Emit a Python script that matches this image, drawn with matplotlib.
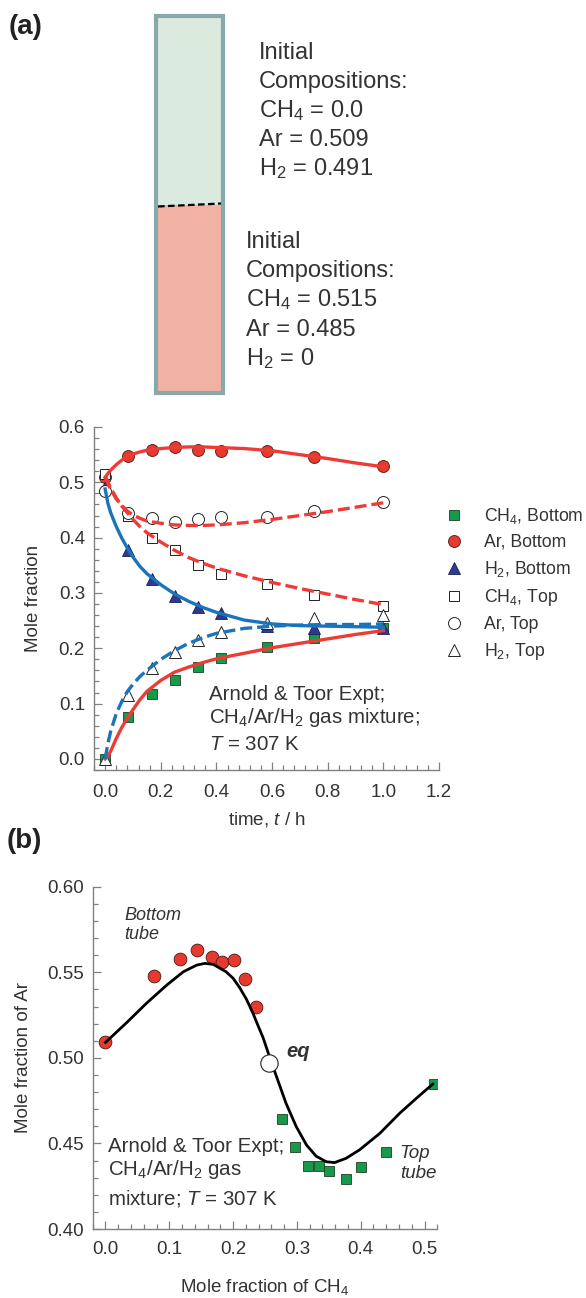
import numpy as np
import matplotlib
matplotlib.use('Agg')
import matplotlib.pyplot as plt
from matplotlib.patches import Rectangle
from matplotlib.lines import Line2D
from matplotlib.ticker import MultipleLocator, FormatStrFormatter

plt.rcParams['font.family'] = ['Liberation Sans', 'DejaVu Sans']
plt.rcParams['mathtext.fontset'] = 'custom'
plt.rcParams['mathtext.rm'] = 'Liberation Sans'
plt.rcParams['mathtext.it'] = 'Liberation Sans:italic'
plt.rcParams['mathtext.bf'] = 'Liberation Sans:bold'

# sampling times, h (0, 5, 10, 15, 20, 25, 35, 45, 60 min)
t_expt = [0.0, 0.0833, 0.1667, 0.25, 0.3333, 0.4167, 0.5833, 0.75, 1.0]

ch4_bottom = [0.0, 0.076, 0.117, 0.143, 0.167, 0.182, 0.202, 0.218, 0.236]
ar_bottom = [0.509, 0.548, 0.558, 0.563, 0.559, 0.556, 0.557, 0.546, 0.530]
h2_bottom = [0.491, 0.378, 0.326, 0.295, 0.275, 0.264, 0.241, 0.237, 0.236]
ch4_top = [0.515, 0.440, 0.400, 0.377, 0.351, 0.334, 0.317, 0.297, 0.276]
ar_top = [0.485, 0.445, 0.436, 0.429, 0.434, 0.437, 0.437, 0.448, 0.464]
h2_top = [0.0, 0.115, 0.164, 0.194, 0.215, 0.229, 0.246, 0.255, 0.260]

# model curves
t_model = [0.0, 0.01, 0.02, 0.04, 0.06, 0.08, 0.1, 0.125, 0.15, 0.2,
           0.25, 0.3, 0.35, 0.4, 0.5, 0.6, 0.7, 0.8, 0.9, 1.0]
ar_bottom_model = [0.509, 0.516, 0.522, 0.532, 0.540, 0.547, 0.551, 0.555, 0.558, 0.561,
                   0.563, 0.564, 0.564, 0.563, 0.561, 0.557, 0.550, 0.543, 0.535, 0.528]
ch4_bottom_model = [0.0, 0.005, 0.014, 0.037, 0.057, 0.074, 0.089, 0.107, 0.122, 0.142,
                    0.157, 0.166, 0.174, 0.181, 0.191, 0.201, 0.209, 0.217, 0.225, 0.232]
ar_top_model = [0.509, 0.498, 0.487, 0.470, 0.458, 0.448, 0.441, 0.435, 0.430, 0.426,
                0.423, 0.422, 0.422, 0.423, 0.427, 0.433, 0.440, 0.447, 0.455, 0.463]
ch4_top_model = [0.512, 0.500, 0.490, 0.472, 0.457, 0.445, 0.433, 0.420, 0.409, 0.392,
                 0.377, 0.364, 0.354, 0.345, 0.331, 0.319, 0.308, 0.298, 0.288, 0.279]
h2_bottom_model = [0.488, 0.462, 0.445, 0.420, 0.399, 0.381, 0.365, 0.348, 0.335, 0.315,
                   0.298, 0.285, 0.274, 0.265, 0.251, 0.244, 0.241, 0.240, 0.239, 0.238]
h2_top_model = [0.0, 0.028, 0.050, 0.082, 0.104, 0.122, 0.135, 0.149, 0.160, 0.180,
                0.196, 0.209, 0.219, 0.227, 0.236, 0.240, 0.242, 0.243, 0.243, 0.244]

# composition trajectory, Ar vs CH4
x_ch4_model = [0.0, 0.033, 0.064, 0.096, 0.122, 0.143, 0.156, 0.169, 0.189, 0.200, 0.210,
               0.221, 0.231, 0.240, 0.247, 0.257, 0.270, 0.283, 0.299, 0.315, 0.330,
               0.346, 0.359, 0.377, 0.398, 0.430, 0.461, 0.487, 0.513]
y_ar_model = [0.509, 0.5205, 0.5318, 0.5425, 0.5503, 0.5542, 0.5552, 0.5546, 0.5503,
              0.5465, 0.5412, 0.5342, 0.5262, 0.5180, 0.5118, 0.5007, 0.4870, 0.4734,
              0.4598, 0.4491, 0.4426, 0.4393, 0.4388, 0.4413, 0.4462, 0.4559, 0.4676,
              0.4763, 0.4847]
eq_point = (0.257, 0.497)

RED = '#e63a2e'
RED_LINE = '#ee3b35'
GREEN = '#17994a'
BLUE = '#2e3a92'
BLUE_LINE = '#1a74bb'
TXT = '#333333'
GRAY = '#808080'

W, H = 586, 1298
fig = plt.figure(figsize=(W / 100, H / 100), dpi=100)

# ---- tube sketch --------------------------------------------------------
bg = fig.add_axes([0, 0, 1, 1], zorder=-1)
bg.set_xlim(0, W)
bg.set_ylim(H, 0)
bg.axis('off')
bg.add_patch(Rectangle((155.5, 16), 67, 189, facecolor='#dbeadf', edgecolor='none'))
bg.add_patch(Rectangle((155.5, 205), 67, 188, facecolor='#f1b2a3', edgecolor='none'))
bg.add_patch(Rectangle((155.5, 16), 67, 377, facecolor='none', edgecolor='#87a9ab', linewidth=3))
bg.plot([158, 221], [206.5, 203.5], color='k', ls=(0, (3, 1.5)), lw=1.6)

top_lines = ['Initial', 'Compositions:', r'CH$_4$ = 0.0', 'Ar = 0.509', r'H$_2$ = 0.491']
bot_lines = ['Initial', 'Compositions:', r'CH$_4$ = 0.515', 'Ar = 0.485', r'H$_2$ = 0']
for i, s in enumerate(top_lines):
    bg.text(259, 59 + 29 * i, s, fontsize=17, color=TXT, va='baseline', ha='left')
for i, s in enumerate(bot_lines):
    bg.text(246, 248 + 29.2 * i, s, fontsize=17, color=TXT, va='baseline', ha='left')

bg.text(9, 27, '(a)', fontsize=20, fontweight='bold', color='#222222', va='center')
bg.text(7, 841, '(b)', fontsize=20, fontweight='bold', color='#222222', va='center')


def style_axes(ax):
    for s in ['top', 'right']:
        ax.spines[s].set_visible(False)
    for s in ['left', 'bottom']:
        ax.spines[s].set_color(GRAY)
        ax.spines[s].set_linewidth(1.0)
    ax.tick_params(which='both', direction='in', color=GRAY, labelcolor=TXT,
                   labelsize=13.5, width=0.9)
    ax.tick_params(which='major', length=5.5)
    ax.tick_params(which='minor', length=3.5)
    ax.tick_params(axis='y', pad=6.5)


# ---- (a) mole fraction vs time -----------------------------------------
ax1 = fig.add_axes([94 / W, 1 - 770 / H, 345 / W, 343 / H])
style_axes(ax1)
ax1.tick_params(axis='x', pad=10)
ax1.set_xlim(-0.04, 1.2)
ax1.set_ylim(-0.02, 0.6)
ax1.xaxis.set_major_locator(MultipleLocator(0.2))
ax1.xaxis.set_minor_locator(MultipleLocator(0.04))
ax1.yaxis.set_major_locator(MultipleLocator(0.1))
ax1.yaxis.set_minor_locator(MultipleLocator(0.02))
ax1.xaxis.set_major_formatter(FormatStrFormatter('%.1f'))
ax1.yaxis.set_major_formatter(FormatStrFormatter('%.1f'))

mk = dict(linestyle='none', zorder=2)
ax1.plot(t_expt, ch4_bottom, 's', ms=6.8, mfc=GREEN, mec='#1d3d25', mew=0.6, **mk)
ax1.plot(t_expt, ar_bottom, 'o', ms=8.6, mfc=RED, mec='#4a1a15', mew=0.6, **mk)
ax1.plot(t_expt, h2_bottom, '^', ms=8.0, mfc=BLUE, mec='#1a1f4f', mew=0.6, **mk)
ax1.plot(t_expt, ch4_top, 's', ms=6.8, mfc='white', mec='#222222', mew=0.7, **mk)
ax1.plot(t_expt, ar_top, 'o', ms=8.6, mfc='white', mec='#222222', mew=0.7, **mk)
ax1.plot(t_expt, h2_top, '^', ms=8.0, mfc='white', mec='#222222', mew=0.7, **mk)

dash = (0, (3.6, 1.5))
ax1.plot(t_model, ar_bottom_model, color=RED_LINE, lw=2.4, zorder=3)
ax1.plot(t_model, ch4_bottom_model, color=RED_LINE, lw=2.4, zorder=3)
ax1.plot(t_model, ar_top_model, color=RED_LINE, lw=2.4, ls=dash, zorder=3)
ax1.plot(t_model, ch4_top_model, color=RED_LINE, lw=2.4, ls=dash, zorder=3)
ax1.plot(t_model, h2_bottom_model, color=BLUE_LINE, lw=2.4, zorder=3)
ax1.plot(t_model, h2_top_model, color=BLUE_LINE, lw=2.4, ls=dash, zorder=3)

ax1.text(0.372, 0.116, 'Arnold & Toor Expt;', fontsize=14.8, color=TXT, va='center')
ax1.text(0.372, 0.0741, r'CH$_4$/Ar/H$_2$ gas mixture;', fontsize=14.8, color=TXT, va='center')
ax1.text(0.372, 0.0253, r'$T$ = 307 K', fontsize=14.8, color=TXT, va='center')

ax1.set_xlabel(r'time, $t$ / h', fontsize=13.5, color=TXT)
ax1.set_ylabel('Mole fraction', fontsize=13.5, color=TXT)
ax1.xaxis.set_label_coords(0.5, -0.118)
ax1.yaxis.set_label_coords(-0.15, 0.5)

handles = [
    Line2D([], [], marker='s', ls='none', ms=6.8, mfc=GREEN, mec='#1d3d25', mew=0.6),
    Line2D([], [], marker='o', ls='none', ms=8.6, mfc=RED, mec='#4a1a15', mew=0.6),
    Line2D([], [], marker='^', ls='none', ms=8.0, mfc=BLUE, mec='#1a1f4f', mew=0.6),
    Line2D([], [], marker='s', ls='none', ms=6.8, mfc='white', mec='#222222', mew=0.7),
    Line2D([], [], marker='o', ls='none', ms=8.6, mfc='white', mec='#222222', mew=0.7),
    Line2D([], [], marker='^', ls='none', ms=8.0, mfc='white', mec='#222222', mew=0.7),
]
labels = [r'CH$_4$, Bottom', 'Ar, Bottom', r'H$_2$, Bottom',
          r'CH$_4$, Top', 'Ar, Top', r'H$_2$, Top']
leg = fig.legend(handles, labels, loc='upper left', bbox_to_anchor=(445 / W, 1 - 506 / H),
                 frameon=False, fontsize=12.7, handlelength=1.0, handletextpad=1.22,
                 borderpad=0, borderaxespad=0, labelspacing=0.45, numpoints=1)
for t in leg.get_texts():
    t.set_color(TXT)

# ---- (b) Ar vs CH4 ------------------------------------------------------
ax2 = fig.add_axes([92.7 / W, 1 - 1229 / H, 344.6 / W, 342.3 / H])
style_axes(ax2)
ax2.tick_params(axis='x', pad=9)
ax2.set_xlim(-0.02, 0.52)
ax2.set_ylim(0.40, 0.60)
ax2.xaxis.set_major_locator(MultipleLocator(0.1))
ax2.xaxis.set_minor_locator(MultipleLocator(0.02))
ax2.yaxis.set_major_locator(MultipleLocator(0.05))
ax2.yaxis.set_minor_locator(MultipleLocator(0.01))
ax2.xaxis.set_major_formatter(FormatStrFormatter('%.1f'))
ax2.yaxis.set_major_formatter(FormatStrFormatter('%.2f'))

ax2.plot(ch4_bottom, ar_bottom, 'o', ms=9.2, mfc=RED, mec='#4a1a15', mew=0.6, **mk)
ax2.plot(ch4_top, ar_top, 's', ms=7.4, mfc=GREEN, mec='#1d3d25', mew=0.6, **mk)
ax2.plot(x_ch4_model, y_ar_model, color='black', lw=2.0, zorder=3,
         solid_joinstyle='round')
ax2.plot([eq_point[0]], [eq_point[1]], 'o', ms=12.5, mfc='white', mec='#222222',
         mew=0.8, zorder=4)

ax2.text(0.284, 0.504, 'eq', fontsize=14.5, fontweight='bold', style='italic',
         color=TXT, va='center')
ax2.text(0.029, 0.5834, 'Bottom', fontsize=13, style='italic', color=TXT, va='center')
ax2.text(0.029, 0.5721, 'tube', fontsize=13, style='italic', color=TXT, va='center')
ax2.text(0.461, 0.4442, 'Top', fontsize=13.5, style='italic', color=TXT, va='center')
ax2.text(0.461, 0.4325, 'tube', fontsize=13.5, style='italic', color=TXT, va='center')

ax2.text(0.004, 0.4481, 'Arnold & Toor Expt;', fontsize=14.8, color=TXT, va='center')
ax2.text(0.004, 0.4345, r'CH$_4$/Ar/H$_2$ gas', fontsize=14.8, color=TXT, va='center')
ax2.text(0.004, 0.4179, r'mixture; $T$ = 307 K', fontsize=14.8, color=TXT, va='center')

ax2.set_xlabel(r'Mole fraction of CH$_4$', fontsize=13.5, color=TXT)
ax2.set_ylabel('Mole fraction of Ar', fontsize=13.5, color=TXT)
ax2.xaxis.set_label_coords(0.5, -0.14)
ax2.yaxis.set_label_coords(-0.175, 0.5)

fig.savefig('out.png', dpi=100)
